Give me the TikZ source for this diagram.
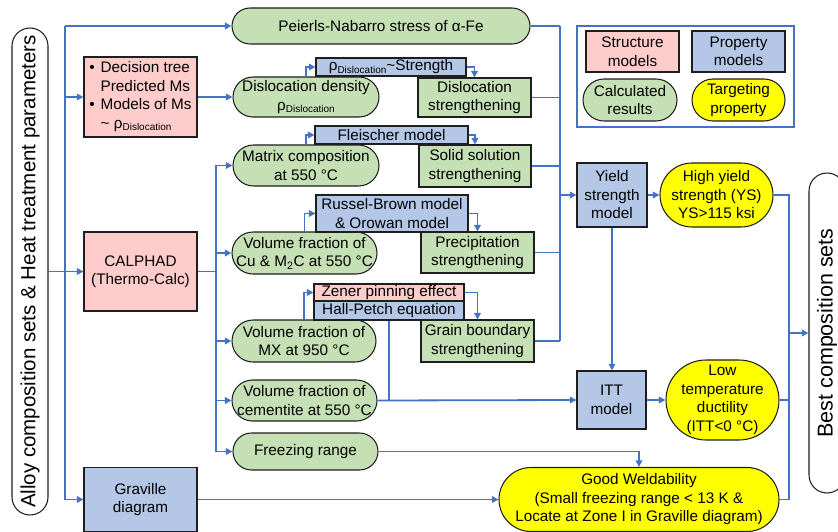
\documentclass[tikz,border=0pt]{standalone}
\usepackage{fontspec}
\setmainfont{Liberation Sans}
\usetikzlibrary{arrows.meta}
\definecolor{lnblue}{HTML}{4472C4}
\definecolor{pinkf}{HTML}{FFCCCC}
\definecolor{bluef}{HTML}{B4C7E7}
\definecolor{greenf}{HTML}{C5E0B4}
\definecolor{yellowf}{HTML}{FFFF00}
\definecolor{edgec}{HTML}{1E1E1E}
\newcommand\subD{\raisebox{-2.5pt}{\fontsize{10}{12}\selectfont Dislocation}}
\begin{document}
\begin{tikzpicture}[x=1pt,y=-1pt,
 base/.style={draw=edgec, line width=1.05pt, inner sep=0pt, align=center, font=\fontsize{15.3}{18.5}\selectfont, text=black},
 structbox/.style={base, fill=pinkf},
 propbox/.style={base, fill=bluef},
 calcbox/.style={base, fill=greenf},
 targbox/.style={base, fill=yellowf},
 sz/.style 2 args={minimum width=#1pt, minimum height=#2pt},
 wire/.style={draw=lnblue, line width=1.8pt},
 arr/.style={wire, -{Triangle[length=6.5pt,width=6.5pt]}},
]
\useasboundingbox (0,0) rectangle (838,532);

% side boxes
\node[base, fill=white, rotate=90, sz={487}{36}, rounded corners=18pt, font=\fontsize{20.5}{24}\selectfont] (alloy) at (30,271.5) {Alloy composition sets \& Heat treatment parameters};
\node[base, fill=white, rotate=90, sz={320}{36}, rounded corners=18pt, font=\fontsize{21.5}{24}\selectfont] (best) at (827,333) {Best composition sets};

% structure models
\node[structbox, sz={113}{80}] (ms) at (140.5,97) {\begin{tabular}{@{}l@{\hspace{6pt}}l@{}}\textbullet & Decision tree\\ & Predicted Ms\\ \textbullet & Models of Ms\\ & \textasciitilde{} ρ\subD\end{tabular}};
\node[structbox, sz={113}{79}] (cal) at (140.5,271.5) {CALPHAD\\(Thermo-Calc)};
\node[propbox, sz={113}{64}] (gv) at (140.5,499.5) {Graville\\diagram};

% calculated results
\node[calcbox, sz={298}{36}, rounded corners=18pt] (pn) at (381,26) {Peierls-Nabarro stress of α-Fe};
\node[calcbox, sz={146}{40}, rounded corners=20pt] (dd) at (306,97) {Dislocation density\\ρ\subD};
\node[calcbox, sz={146}{41}, rounded corners=20.5pt] (mc) at (306,165.5) {Matrix composition\\at 550 °C};
\node[calcbox, sz={145}{42}, rounded corners=21pt] (cu) at (304.5,253) {Volume fraction of\\Cu \& M\textsubscript{2}C at 550 °C};
\node[calcbox, sz={144}{42}, rounded corners=21pt] (mx) at (304,341) {Volume fraction of\\MX at 950 °C};
\node[calcbox, sz={145}{41}, rounded corners=20.5pt] (ce) at (304.5,400.5) {Volume fraction of\\cementite at 550 °C};
\node[calcbox, sz={145}{37}, rounded corners=18.5pt] (fr) at (305.5,451.5) {Freezing range};

% property models (middle)
\node[propbox, sz={150}{18}] (rho) at (391,67) {ρ\subD\textasciitilde Strength};
\node[propbox, sz={153}{18}] (fl) at (391.5,135) {Fleischer model};
\node[propbox, sz={152}{37}] (rb) at (392,213.5) {Russel-Brown model\\\& Orowan model};
\node[structbox, sz={150}{17}] (zp) at (389,292.5) {Zener pinning effect};
\node[propbox, sz={150}{19}] (hp) at (389,310.5) {Hall-Petch equation};

% strengthening
\node[calcbox, sz={113}{39}] (ds) at (474.5,97.5) {Dislocation\\strengthening};
\node[calcbox, sz={112}{42}] (ss) at (475,166) {Solid solution\\strengthening};
\node[calcbox, sz={113}{41}] (ps) at (477.5,252.5) {Precipitation\\strengthening};
\node[calcbox, sz={113}{42}] (gb) at (477.5,341) {Grain boundary\\strengthening};

% right models and targets
\node[propbox, sz={70}{64}] (ys) at (612,195) {Yield\\strength\\model};
\node[targbox, sz={113}{64}, rounded corners=32pt] (hy) at (716.5,195) {High yield\\strength (YS)\\YS>115 ksi};
\node[propbox, sz={69}{58}] (itt) at (611.5,400) {ITT\\model};
\node[targbox, sz={113}{80}, rounded corners=40pt] (lt) at (722.5,400) {Low\\temperature\\ductility\\(ITT<0 °C)};
\node[targbox, sz={280}{64}, rounded corners=32pt] (gw) at (639,499.5) {Good Weldability\\(Small freezing range < 13 K \&\\Locate at Zone I in Graville diagram)};

% legend
\node[draw=lnblue, line width=1.6pt, sz={217}{101}, inner sep=0pt] (leg) at (685.5,76.5) {};
\node[structbox, sz={93}{41}] (l1) at (632.5,51.5) {Structure\\models};
\node[propbox, sz={93}{41}] (l2) at (738.5,51.5) {Property\\models};
\node[calcbox, sz={94}{42}, rounded corners=21pt] (l3) at (630,100) {Calculated\\results};
\node[targbox, sz={93}{42}, rounded corners=21pt] (l4) at (738.5,100) {Targeting\\property};

% left bus
\coordinate (lbus) at (65,271.5);
\draw[wire] (lbus |- pn.west) -- (lbus |- gv.west);
\draw[arr] (alloy.south) -- (cal.west);
\draw[arr] (lbus |- pn.west) -- (pn.west);
\draw[arr] (lbus |- ms.west) -- (ms.west);
\draw[arr] (lbus |- gv.west) -- (gv.west);
\draw[arr] (ms.east) -- (dd.west);

% model links
\draw[arr] (dd.north) |- (rho.west);
\draw[arr] (rho.east) -| (ds.north);
\draw[arr] (mc.north) |- (fl.west);
\draw[arr] (fl.east) -| (ss.north);
\draw[arr] (cu.north) |- (rb.west);
\draw[arr] (rb.east) -| (ps.north);
\draw[arr] (mx.north) |- (zp.west);
\draw[arr] (zp.east) -| (gb.north);

% CALPHAD bus
\coordinate (cbus) at (216,271.5);
\draw[wire] (cal.east) -- (cbus);
\draw[wire] (cbus |- mc.west) -- (cbus |- fr.west);
\foreach \n in {mc,cu,mx,ce,fr} {\draw[arr] (cbus |- \n.west) -- (\n.west);}

% right bus
\coordinate (rbus) at (560,195);
\draw[wire] (rbus |- pn.east) -- (rbus |- gb.east);
\foreach \n in {pn,ds,ss,ps,gb} {\draw[wire] (\n.east) -- (rbus |- \n.east);}
\draw[arr] (rbus |- ys.west) -- (ys.west);
\draw[arr] (ys.east) -- (hy.west);
\draw[arr] (ys.south) -- (ys.south |- itt.north);
\draw[arr] (ce.east) -- (itt.west);
\draw[wire] (hp.south) -- (hp.south |- itt.west);
\draw[arr] (itt.east) -- (lt.west);
\draw[arr] (fr.east) -| (gw.north);
\draw[arr] (gv.east) -- (gw.west);

% far right bus
\coordinate (fbus) at (789,333);
\draw[wire] (hy.east) -- (fbus |- hy.east) -- (fbus |- gw.east) -- (gw.east);
\draw[wire] (lt.east) -- (fbus |- lt.east);
\draw[arr] (fbus |- best.north) -- (best.north);
\end{tikzpicture}
\end{document}
